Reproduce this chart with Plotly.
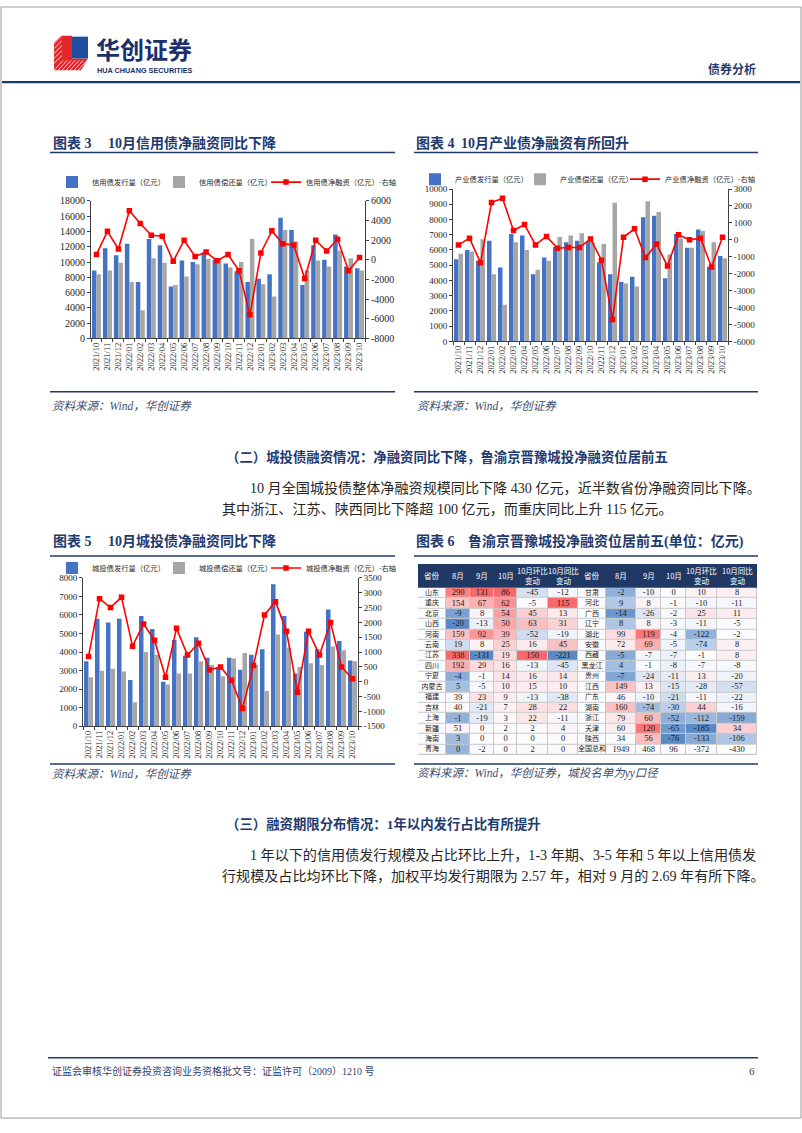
import numpy as np
import plotly.graph_objects as go

# ---------------- data ----------------
months = ["2021/10", "2021/11", "2021/12", "2022/01", "2022/02", "2022/03", "2022/04",
          "2022/05", "2022/06", "2022/07", "2022/08", "2022/09", "2022/10", "2022/11",
          "2022/12", "2023/01", "2023/02", "2023/03", "2023/04", "2023/05", "2023/06",
          "2023/07", "2023/08", "2023/09", "2023/10"]

credit_issue = [8900, 11800, 10900, 12400, 7400, 13000, 12200, 6800, 10200, 10000, 11200, 10300, 9800,
                8800, 7400, 7800, 8400, 15800, 14200, 7000, 12200, 10300, 13600, 9400, 9200]
credit_repay = [8400, 8900, 9900, 7400, 3700, 10500, 9900, 7000, 8100, 9700, 10400, 10400, 9300,
                10000, 13000, 7100, 5500, 14200, 12700, 8900, 10200, 9400, 11500, 10500, 8900]
credit_net = [550, 2900, 1100, 5000, 3700, 2500, 2400, -150, 2000, 350, 800, -100, 550,
              -1100, -5600, 700, 2950, 1650, 1500, -1900, 2000, 900, 2100, -1100, 250]

ind_issue = [5400, 6000, 5300, 6600, 4850, 7050, 6950, 4400, 5500, 6200, 6500, 6600, 6550,
             5200, 4400, 3900, 4250, 8150, 8250, 4150, 7050, 6150, 7350, 4900, 5600]
ind_repay = [5750, 5900, 6700, 4400, 2400, 6500, 6000, 4700, 5300, 6850, 6950, 7100, 6500,
             6400, 9100, 3800, 3600, 9200, 8500, 5700, 6750, 6150, 7250, 6500, 5450]
ind_net = [-300, 100, -1350, 2200, 2450, 550, 900, -300, 200, -500, -450, -450, 50,
           -1200, -4700, 150, 650, -1050, -250, -1550, 300, 0, 100, -1600, 150]

lgfv_issue = [3500, 5800, 5600, 5800, 2500, 5950, 5250, 2400, 4650, 3800, 4800, 3700, 3200,
              3700, 3050, 3850, 4150, 7650, 5950, 2850, 5100, 4150, 6300, 4600, 3550]
lgfv_repay = [2650, 3000, 3100, 2950, 1300, 4000, 3850, 2250, 2850, 2850, 3500, 3300, 2700,
              3650, 3950, 3300, 1900, 4950, 4250, 3200, 3400, 3300, 4300, 4100, 3500]
lgfv_net = [850, 2800, 2500, 2850, 1200, 1950, 1400, 150, 1800, 900, 1300, 400, 500,
            50, -900, 550, 2250, 2700, 1700, -350, 1700, 900, 2000, 500, 100]

credit_names = ["信用债发行量（亿元）", "信用债偿还量（亿元）", "信用债净融资（亿元）-右轴"]
ind_names = ["产业债发行量（亿元）", "产业债偿还量（亿元）", "产业债净融资（亿元）-右轴"]
lgfv_names = ["城投债发行量（亿元）", "城投债偿还量（亿元）", "城投债净融资（亿元）-右轴"]

# table (图表6)
prov_L = ["山东", "重庆", "北京", "山西", "河南", "云南", "江苏", "四川", "宁夏", "内蒙古",
          "福建", "吉林", "上海", "新疆", "海南", "青海"]
aug_L = [290, 154, -9, -20, 159, 19, 338, 192, -4, 5, 39, 40, -1, 51, 3, 0]
sep_L = [131, 67, 8, -13, 92, 8, -131, 29, -1, -5, 23, -21, -19, 0, 0, -2]
oct_L = [86, 62, 54, 50, 39, 25, 19, 16, 14, 10, 9, 7, 3, 2, 0, 0]
mom_L = [-45, -5, 45, 63, -52, 16, 150, -13, 16, 15, -13, 28, 22, 2, 0, 2]
yoy_L = [-12, 115, 13, 31, -19, 45, -221, -45, 14, 10, -38, 22, -11, 4, 0, 0]

prov_R = ["甘肃", "河北", "广西", "辽宁", "湖北", "安徽", "西藏", "黑龙江", "贵州", "江西",
          "广东", "湖南", "浙江", "天津", "陕西", "全国总和"]
aug_R = [-2, 9, -14, 8, 99, 72, -5, 4, -7, 149, 46, 160, 79, 60, 34, 1949]
sep_R = [-10, 8, -26, 8, 119, 69, -7, -1, -24, 13, -10, -74, 60, 120, 56, 468]
oct_R = [0, -1, -2, -3, -4, -5, -7, -8, -11, -15, -21, -30, -52, -65, -76, 96]
mom_R = [10, -10, 25, -11, -122, -74, -1, -7, 13, -28, -11, 44, -112, -185, -133, -372]
yoy_R = [8, -11, 11, -5, -2, 8, 8, -8, -20, -57, -22, -16, -159, 34, -106, -430]

table_header = ["省份", "8月", "9月", "10月", "10月环比<br>变动", "10月同比<br>变动"]

# ---------------- styling helpers ----------------
W, H = 802, 1133


def X(p):
    return p / W


def Y(p):
    return 1 - p / H


NAVY = "#1f3a6e"
BLUE = "#4472c4"
GRAY = "#a6a6a6"
RED = "#ff0000"
AX = "#404040"
TXT = "#262626"
NUM = "Liberation Serif"
CJK = "Noto Sans CJK SC"
MIX = "Liberation Serif, Noto Sans CJK SC"

fig = go.Figure()
layout = {}


def add_chart(n, issue, repay, net, names, xdom, ydom, lmax, ldtick, rmin, rmax, rdtick,
              yfont, legend_pos, lentry):
    xa = "x" if n == 1 else f"x{n}"
    ya_i, yb_i = 2 * n - 1, 2 * n
    ya = "y" if ya_i == 1 else f"y{ya_i}"
    yb = f"y{yb_i}"
    lg = "legend" if n == 1 else f"legend{n}"
    fig.add_trace(go.Bar(x=months, y=issue, name=names[0], marker=dict(color=BLUE, line=dict(width=0)),
                         xaxis=xa, yaxis=ya, legend=lg, legendwidth=lentry, hoverinfo="skip"))
    fig.add_trace(go.Bar(x=months, y=repay, name=names[1], marker=dict(color=GRAY, line=dict(width=0)),
                         xaxis=xa, yaxis=ya, legend=lg, legendwidth=lentry, hoverinfo="skip"))
    fig.add_trace(go.Scatter(x=months, y=net, name=names[2], mode="lines+markers",
                             line=dict(color=RED, width=1.6),
                             marker=dict(symbol="square", size=5.5, color=RED),
                             xaxis=xa, yaxis=yb, legend=lg, legendwidth=96, hoverinfo="skip"))
    common = dict(showline=True, linecolor=AX, linewidth=1, ticks="outside", ticklen=3,
                  tickcolor=AX, showgrid=False, zeroline=False)
    xkey = "xaxis" if n == 1 else f"xaxis{n}"
    yakey = "yaxis" if ya_i == 1 else f"yaxis{ya_i}"
    ybkey = f"yaxis{yb_i}"
    layout[xkey] = dict(common, domain=[X(xdom[0]), X(xdom[1])], anchor=ya, type="category",
                        range=[-0.5, len(months) - 0.5], tickangle=-90, tickson="boundaries",
                        tickfont=dict(family=NUM, size=8.5, color=TXT))
    lvals = list(range(0, lmax + 1, ldtick))
    layout[yakey] = dict(common, domain=[Y(ydom[1]), Y(ydom[0])], anchor=xa, range=[0, lmax],
                         tickvals=lvals, ticktext=[str(v) for v in lvals],
                         tickfont=dict(family=NUM, size=yfont, color=TXT))
    rvals = list(range(rmin, rmax + 1, rdtick))
    layout[ybkey] = dict(common, overlaying=ya, side="right", anchor=xa, range=[rmin, rmax],
                         tickvals=rvals, ticktext=[str(v) for v in rvals],
                         tickfont=dict(family=NUM, size=yfont, color=TXT))
    layout[lg] = dict(x=X(legend_pos[0]), y=Y(legend_pos[1]), xanchor="left", yanchor="middle",
                      orientation="h", font=dict(family=CJK, size=7.3, color=TXT),
                      bgcolor="rgba(0,0,0,0)", itemwidth=30, tracegroupgap=0)


add_chart(1, credit_issue, credit_repay, credit_net, credit_names, (91, 365), (197, 336),
          18000, 2000, -8000, 6000, 2000, 10, (52, 178), 62)
add_chart(2, ind_issue, ind_repay, ind_net, ind_names, (453, 728), (185, 339),
          10000, 1000, -6000, 3000, 1000, 9, (415, 175), 60)
add_chart(3, lgfv_issue, lgfv_repay, lgfv_net, lgfv_names, (83, 358), (578, 728),
          8000, 1000, -1500, 3500, 500, 9, (52, 568), 62)

# ---------------- table (heatmap cells) ----------------
cols = [prov_L, aug_L, sep_L, oct_L, mom_L, yoy_L, prov_R, aug_R, sep_R, oct_R, mom_R, yoy_R]
col_edges = [418, 446, 470, 494, 517, 548, 578, 606, 636, 661, 686, 717, 757]
nrows = len(prov_L)


def excel_scale(vals):
    """Excel 3-colour scale position: min -> -1, 50th percentile -> 0, max -> 1."""
    arr = np.array(vals, dtype=float)
    mn, md, mx = arr.min(), np.median(arr), arr.max()
    out = []
    for v in arr:
        if v >= md:
            out.append((v - md) / (mx - md) if mx > md else 0.0)
        else:
            out.append(-(md - v) / (md - mn) if md > mn else 0.0)
    return out


# the two halves are one province list split in two: scale each measure over all provinces
zt = np.zeros((nrows, len(cols)))
pairs = [(aug_L, aug_R), (sep_L, sep_R), (oct_L, oct_R), (mom_L, mom_R), (yoy_L, yoy_R)]
for k, (lv, rv) in enumerate(pairs):
    t = excel_scale(lv + rv[:-1])
    zt[:, 1 + k] = t[:len(lv)]
    zt[:len(rv) - 1, 7 + k] = t[len(lv):]

fig.add_trace(go.Heatmap(z=zt, x=col_edges, y=list(range(nrows + 1)), zmin=-1, zmax=1,
                         colorscale=[[0, "#5A8AC6"], [0.5, "#FCFCFF"], [1, "#F8696B"]],
                         showscale=False, xgap=1, ygap=1, xaxis="x4", yaxis="y7",
                         hoverinfo="skip", showlegend=False))

num_x, num_y, num_t, pr_x, pr_y, pr_t = [], [], [], [], [], []
for j, col in enumerate(cols):
    cx = (col_edges[j] + col_edges[j + 1]) / 2
    for i, v in enumerate(col):
        if j in (0, 6):
            pr_x.append(cx); pr_y.append(i + 0.5); pr_t.append(v)
        else:
            num_x.append(cx); num_y.append(i + 0.5); num_t.append(str(v))
fig.add_trace(go.Scatter(x=num_x, y=num_y, text=num_t, mode="text", xaxis="x4", yaxis="y7",
                         textfont=dict(family=NUM, size=8.5, color="#1a1a1a"),
                         hoverinfo="skip", showlegend=False))
fig.add_trace(go.Scatter(x=pr_x, y=pr_y, text=pr_t, mode="text", xaxis="x4", yaxis="y7",
                         textfont=dict(family=CJK, size=7, color="#1a1a1a"),
                         hoverinfo="skip", showlegend=False))

layout["xaxis4"] = dict(domain=[X(418), X(757)], range=[418, 757], visible=False, anchor="y7")
layout["yaxis7"] = dict(domain=[Y(757), Y(588)], range=[nrows, 0], visible=False, anchor="x4")

# ---------------- shapes ----------------
shapes = []


def hline(y, x0, x1, w=1.5, color=NAVY):
    shapes.append(dict(type="line", xref="paper", yref="paper", x0=X(x0), x1=X(x1), y0=Y(y), y1=Y(y),
                       line=dict(color=color, width=w)))


def path(pts):
    return "M " + " L ".join(f"{X(a):.5f},{Y(b):.5f}" for a, b in pts) + " Z"


# page frame
shapes.append(dict(type="rect", xref="paper", yref="paper", x0=X(1), x1=X(801), y0=Y(1124), y1=Y(1),
                   line=dict(color="#9a9a9a", width=1), fillcolor="rgba(0,0,0,0)"))
# logo
shapes.append(dict(type="path", xref="paper", yref="paper",
                   path=path([(54, 37), (61, 30), (72, 30), (72, 53), (88, 53), (81, 65), (54, 65)]),
                   fillcolor="#e3262b", line=dict(width=0)))
shapes.append(dict(type="rect", xref="paper", yref="paper", x0=X(72), x1=X(88), y0=Y(53), y1=Y(31),
                   fillcolor="#1f4fa0", line=dict(width=0)))
for k in range(7):
    x0 = 54 + 4 * k
    shapes.append(dict(type="line", xref="paper", yref="paper", x0=X(x0), y0=Y(65), x1=X(x0 + 9),
                       y1=Y(55), line=dict(color="white", width=0.8)))
for k in range(5):
    y0 = 58 - 5 * k
    shapes.append(dict(type="line", xref="paper", yref="paper", x0=X(54), y0=Y(y0), x1=X(62),
                       y1=Y(y0 - 8), line=dict(color="white", width=0.8)))

hline(77, 2, 800, 2.2)
for yy in (148, 390, 556, 766):
    hline(yy, 50, 395)
    hline(yy, 414, 758)
hline(1063, 48, 758, 1.5)

# table header + backdrop
shapes.append(dict(type="rect", xref="x4", yref="y7", x0=418, x1=757, y0=0, y1=nrows,
                   fillcolor="#c9c9c9", line=dict(width=0), layer="below"))
shapes.append(dict(type="rect", xref="paper", yref="paper", x0=X(418), x1=X(757), y0=Y(588), y1=Y(564),
                   fillcolor="#1f3864", line=dict(width=0)))

# ---------------- annotations ----------------
anns = []


def text(t, x, y, size, color=TXT, family=MIX, xanchor="left", yanchor="middle"):
    anns.append(dict(text=t, x=X(x), y=Y(y), xref="paper", yref="paper", showarrow=False,
                     xanchor=xanchor, yanchor=yanchor, font=dict(size=size, color=color, family=family)))


text("<b>华创证券</b>", 94, 42.5, 24, "#1c2f6b", CJK)
text("<b>HUA CHUANG SECURITIES</b>", 95, 65, 7.3, "#1c2f6b", "Liberation Sans")
text("<b>债券分析</b>", 758, 63, 12, NAVY, CJK, xanchor="right")

text("<b>图表 3</b>", 51, 138, 14, NAVY)
text("<b>10月信用债净融资同比下降</b>", 106, 138, 14, NAVY)
text("<b>图表 4</b>", 414, 138, 14, NAVY)
text("<b>10月产业债净融资有所回升</b>", 459, 138, 14, NAVY)
text("<b>图表 5</b>", 51, 541, 14, NAVY)
text("<b>10月城投债净融资同比下降</b>", 106, 541, 14, NAVY)
text("<b>图表 6</b>", 414, 541, 14, NAVY)
text("<b>鲁渝京晋豫城投净融资位居前五(单位：亿元)</b>", 466, 541, 14, NAVY)

SRC = "#3d4d6d"
text("<i>资料来源：Wind，华创证券</i>", 50, 404, 11.5, SRC)
text("<i>资料来源：Wind，华创证券</i>", 415, 404, 11.5, SRC)
text("<i>资料来源：Wind，华创证券</i>", 50, 776, 11.5, SRC)
text("<i>资料来源：Wind，华创证券，城投名单为yy口径</i>", 415, 776, 11.5, SRC)

text("<b>（二）城投债融资情况：净融资同比下降，鲁渝京晋豫城投净融资位居前五</b>", 224, 456, 13.4, NAVY)
text("10 月全国城投债整体净融资规模同比下降 430 亿元，近半数省份净融资同比下降。", 248, 487, 14.1, TXT)
text("其中浙江、江苏、陕西同比下降超 100 亿元，而重庆同比上升 115 亿元。", 220, 508, 14.1, TXT)

text("<b>（三）融资期限分布情况：1年以内发行占比有所提升</b>", 224, 827, 13.4, NAVY)
text("1 年以下的信用债发行规模及占比环比上升，1-3 年期、3-5 年和 5 年以上信用债发", 248, 858, 14.1, TXT)
text("行规模及占比均环比下降，加权平均发行期限为 2.57 年，相对 9 月的 2.69 年有所下降。", 220, 879, 14.1, TXT)

text("证监会审核华创证券投资咨询业务资格批文号：证监许可（2009）1210 号", 50, 1076, 10, "#2f3f6f")
text("6", 757, 1076, 11, "#2f3f6f", NUM, xanchor="right")

# table header text
for j in range(12):
    cx = (col_edges[j] + col_edges[j + 1]) / 2
    anns.append(dict(text=table_header[j % 6], x=X(cx), y=Y(576), xref="paper", yref="paper",
                     showarrow=False, xanchor="center", yanchor="middle",
                     font=dict(size=7.5, color="white", family=CJK)))

fig.update_layout(
    width=W, height=H, margin=dict(l=0, r=0, t=0, b=0), autosize=False,
    paper_bgcolor="white", plot_bgcolor="white",
    barmode="group", bargap=0.18, bargroupgap=0.0,
    showlegend=True, shapes=shapes, annotations=anns, **layout,
)

fig.write_html("out.html", config={"displayModeBar": False},
               post_script="document.body.style.margin='0px';")
